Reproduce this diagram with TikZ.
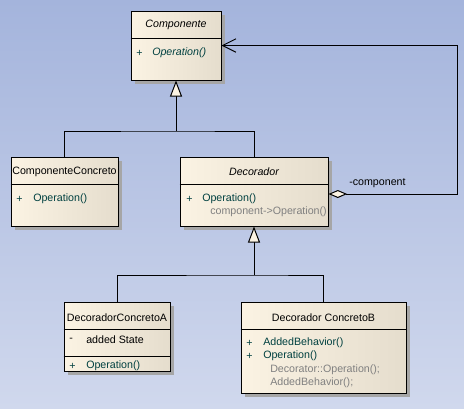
\documentclass[tikz,border=0pt]{standalone}
\usepackage{fontspec}
\setmainfont{Liberation Sans}
\usetikzlibrary{arrows.meta, positioning, calc, shadows}
\definecolor{bgtop}{RGB}{164,180,220}
\definecolor{bgbottom}{RGB}{208,216,237}
\definecolor{boxlight}{RGB}{251,243,227}
\definecolor{boxdark}{RGB}{229,221,205}
\definecolor{membercol}{RGB}{0,64,64}
\definecolor{notecol}{RGB}{128,128,128}
\newcommand{\umlfont}{\fontsize{8}{9.5}\selectfont}

\begin{document}
\begin{tikzpicture}[x=0.75pt, y=-0.75pt,
    cls/.style={rectangle, draw, line width=0.75pt,
                left color=boxlight, right color=boxdark,
                drop shadow={shadow xshift=3pt, shadow yshift=-3pt,
                             fill=black!35, opacity=1},
                inner sep=0pt},
    clsname/.style={font=\umlfont, inner sep=0pt},
    member/.style={font=\umlfont, text=membercol, anchor=west,
                   inner sep=0pt},
    note/.style={font=\umlfont, text=notecol, anchor=west,
                 inner sep=0pt},
    link/.style={line width=0.75pt},
    gen/.style={-{Triangle[length=12pt, width=9pt, fill=boxlight]},
                line width=0.75pt},
    assoc/.style={{Diamond[length=14pt, width=6pt, fill=boxlight]}-{Straight Barb[length=10pt, width=10pt]},
                  line width=0.75pt}
]
    \useasboundingbox (0,0) rectangle (464,408);
    \shade[top color=bgtop, bottom color=bgbottom] (0,0) rectangle (464,408);

    % class boxes
    \node[cls, minimum width=67.5pt, minimum height=51.75pt] (comp) at (176,45.5) {};
    \node[cls, minimum width=80.25pt, minimum height=51.75pt] (cc) at (64.5,191.5) {};
    \node[cls, minimum width=111pt, minimum height=51.75pt] (deco) at (254,191.5) {};
    \node[cls, minimum width=79.5pt, minimum height=51.75pt] (dca) at (117,336.5) {};
    \node[cls, minimum width=123.75pt, minimum height=68.25pt] (dcb) at (323.5,347.5) {};

    % compartments
    \draw[link] (comp.west |- 0,38) -- (comp.east |- 0,38);
    \draw[link] (cc.west |- 0,184) -- (cc.east |- 0,184);
    \draw[link] (deco.west |- 0,184) -- (deco.east |- 0,184);
    \draw[link] (dca.west |- 0,329) -- (dca.east |- 0,329);
    \draw[link] (dca.west |- 0,356) -- (dca.east |- 0,356);
    \draw[link] (dcb.west |- 0,329) -- (dcb.east |- 0,329);

    % Componente
    \node[clsname] (compname) at (176,24.5) {\itshape Componente};
    \node[member] (compvis) at (136,53) {+};
    \node[member] (compop) at (152,53) {\itshape Operation()};

    % ComponenteConcreto
    \node[clsname] (ccname) at (64.5,171.5) {ComponenteConcreto};
    \node[member] (ccvis) at (16,199) {+};
    \node[member] (ccop) at (33,199) {Operation()};

    % Decorador
    \node[clsname] (deconame) at (254,171.5) {\itshape Decorador};
    \node[member] (decovis) at (186,199) {+};
    \node[member] (decoop) at (202,199) {Operation()};
    \node[note] (deconote) at (210,212) {component->Operation()};

    % DecoradorConcretoA
    \node[clsname] (dcaname) at (117,317.5) {DecoradorConcretoA};
    \node[member, text=black] (dcavis) at (69,340) {-};
    \node[member, text=black] (dcaattr) at (86,340) {added State};
    \node[member] (dcaopvis) at (69,366) {+};
    \node[member] (dcaop) at (86,366) {Operation()};

    % Decorador ConcretoB
    \node[clsname] (dcbname) at (323.5,317.5) {Decorador ConcretoB};
    \node[member] (dcbvis1) at (246,343) {+};
    \node[member] (dcbadd) at (263,343) {AddedBehavior()};
    \node[member] (dcbvis2) at (246,356) {+};
    \node[member] (dcbop) at (263,356) {Operation()};
    \node[note] (dcbnote1) at (270,370) {Decorator::Operation();};
    \node[note] (dcbnote2) at (270,383) {AddedBehavior();};

    % generalizations
    \coordinate (j1) at (176,131);
    \coordinate (j2) at (254,275);
    \draw[link] (cc.north) |- (j1) -| (deco.north);
    \draw[gen] (j1) -- (comp.south);
    \draw[link] (dca.north) |- (j2) -| (dcb.north);
    \draw[gen] (j2) -- (deco.south);

    % aggregation
    \coordinate (aggstart) at (deco.east |- 0,194);
    \coordinate (aggbend) at (457,194);
    \draw[assoc] (aggstart) -- (aggbend) |- (comp.east);
    \node[member, text=black] (rolename) at (349,183) {-component};
\end{tikzpicture}
\end{document}
